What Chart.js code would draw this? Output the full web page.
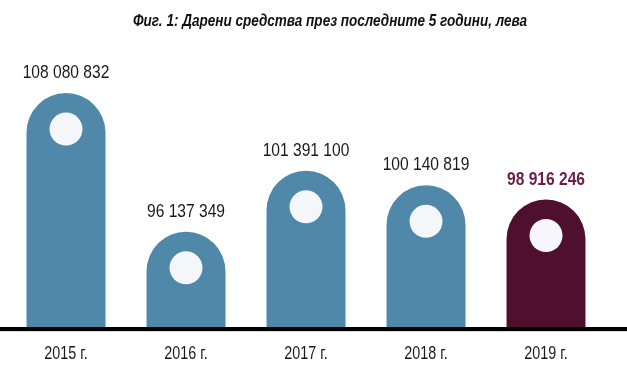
<!DOCTYPE html>
<html>
<head>
<meta charset="utf-8">
<script src="https://cdn.jsdelivr.net/npm/chart.js@4"></script>
<style>
  html, body { margin: 0; padding: 0; background: #ffffff; }
  #wrap { width: 627px; height: 382px; }
</style>
</head>
<body>
<div id="wrap"><canvas id="c" width="627" height="382"></canvas></div>
<script>
const titleText = 'Фиг. 1: Дарени средства през последните 5 години, лева';
const categories = ['2015 г.', '2016 г.', '2017 г.', '2018 г.', '2019 г.'];
const values = [108080832, 96137349, 101391100, 100140819, 98916246];
const valueLabels = ['108 080 832', '96 137 349', '101 391 100', '100 140 819', '98 916 246'];

const FONT = '"Liberation Sans", Arial, sans-serif';
const NARROW = 0.82;
const BLUE = '#4f88a9';
const MAROON = '#4f1030';
const highlightIndex = values.length - 1;

function narrowText(ctx, text, x, y, font, color, scaleX) {
  ctx.save();
  ctx.font = font;
  ctx.fillStyle = color;
  ctx.textAlign = 'center';
  ctx.textBaseline = 'alphabetic';
  ctx.translate(x, y);
  ctx.scale(scaleX, 1);
  ctx.fillText(text, 0, 0);
  ctx.restore();
}

const decorPlugin = {
  id: 'decor',
  afterDatasetsDraw(chart) {
    const ctx = chart.ctx;
    const area = chart.chartArea;
    const meta = chart.getDatasetMeta(0);
    const xScale = chart.scales.x;
    ctx.save();
    ctx.fillStyle = '#000000';
    ctx.fillRect(0, area.bottom, chart.width, 4);
    ctx.fillStyle = 'rgba(0,0,0,0.15)';
    ctx.fillRect(0, area.bottom + 4, chart.width, 1);
    ctx.restore();

    meta.data.forEach((el, i) => {
      ctx.save();
      ctx.beginPath();
      ctx.fillStyle = '#f4f6fa';
      ctx.arc(el.x, el.y + 36, 16.5, 0, Math.PI * 2);
      ctx.fill();
      ctx.restore();
      const hi = i === highlightIndex;
      narrowText(ctx, valueLabels[i], el.x, el.y - 15,
        (hi ? 'bold ' : '') + '19px ' + FONT, hi ? '#6a1f4b' : '#1a1a1a', NARROW);
    });

    categories.forEach((c, i) => {
      narrowText(ctx, c, xScale.getPixelForTick(i), area.bottom + 32,
        '17.5px ' + FONT, '#1a1a1a', NARROW);
    });

    ctx.save();
    const tFont = 'italic bold 17px ' + FONT;
    ctx.font = tFont;
    const w = ctx.measureText(titleText).width;
    ctx.restore();
    narrowText(ctx, titleText, 330, 26, tFont, '#111111', 394 / w);
  }
};

new Chart(document.getElementById('c'), {
  type: 'bar',
  data: {
    labels: categories,
    datasets: [{
      data: values,
      backgroundColor: values.map((v, i) => i === highlightIndex ? MAROON : BLUE),
      borderWidth: 0,
      borderSkipped: 'bottom',
      borderRadius: { topLeft: 40, topRight: 40, bottomLeft: 0, bottomRight: 0 },
      barPercentage: 0.658,
      categoryPercentage: 1.0
    }]
  },
  options: {
    responsive: false,
    animation: false,
    events: [],
    layout: { padding: { left: 6, right: 21, top: 39, bottom: 55 } },
    plugins: {
      legend: { display: false },
      tooltip: { enabled: false },
      title: { display: false }
    },
    scales: {
      x: {
        grid: { display: false, drawTicks: false },
        border: { display: false },
        ticks: { display: false }
      },
      y: {
        display: false,
        min: 87940000,
        max: 112740000
      }
    }
  },
  plugins: [decorPlugin]
});
</script>
</body>
</html>
